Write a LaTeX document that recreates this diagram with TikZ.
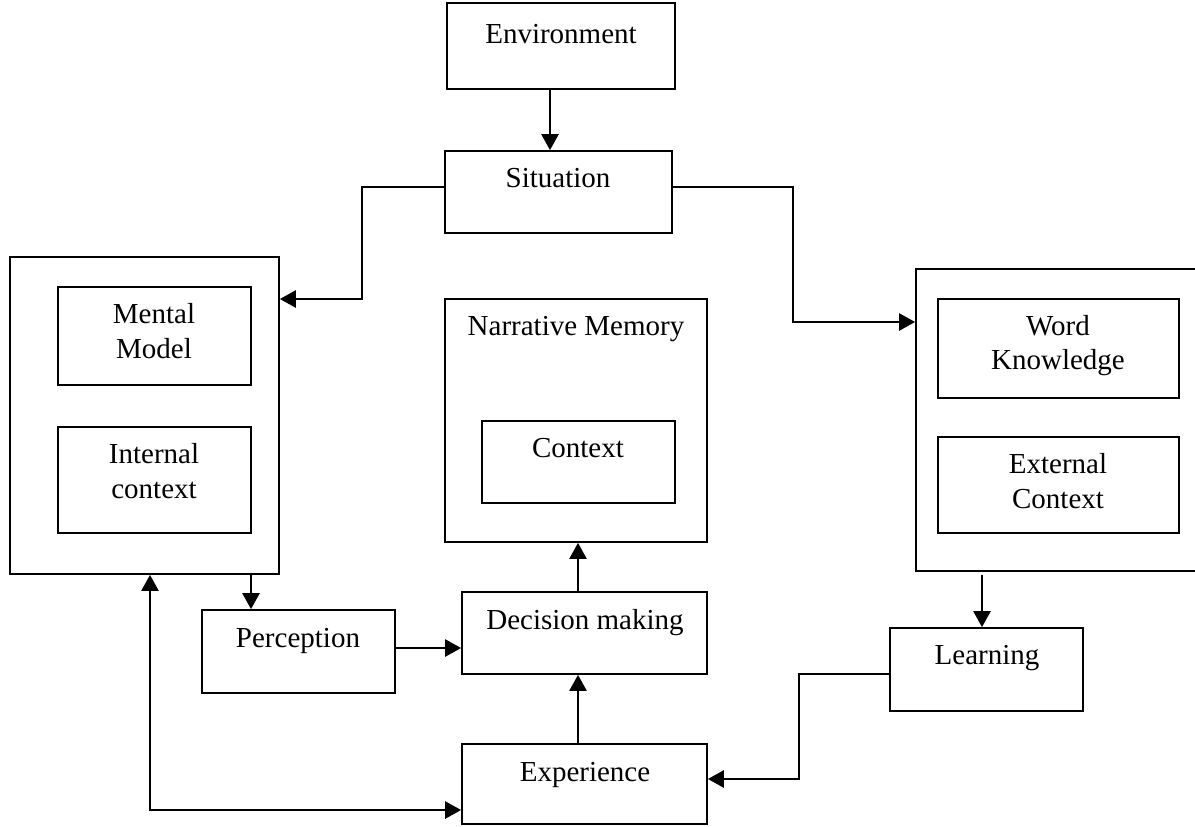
\documentclass[tikz,border=0pt]{standalone}
\usepackage{fontspec}
\setmainfont{Liberation Serif}
\usetikzlibrary{arrows.meta}
\begin{document}
\begin{tikzpicture}[x=0.5pt,y=-0.5pt,
  box/.style={draw, line width=0.85pt, inner sep=0pt},
  txt/.style={font=\fontsize{14.5}{17.5}\selectfont, inner sep=0pt, anchor=base},
  arr/.style={-{Triangle[length=8pt,width=8.5pt]}, line width=1.2pt},
  arrtwo/.style={{Triangle[length=8pt,width=8.5pt]}-{Triangle[length=8pt,width=8.5pt]}, line width=1.2pt}
]
\useasboundingbox (0,0) rectangle (1195,826);
\clip (0,0) rectangle (1195,826);

% boxes
\node[box, minimum width=114pt, minimum height=43pt] (env) at (561,46) {};
\node[box, minimum width=113.5pt, minimum height=41pt] (sit) at (558.5,192) {};
\node[box, minimum width=134.5pt, minimum height=158.5pt] (left) at (144.5,415.5) {};
\node[box, minimum width=96.5pt, minimum height=49pt] (mm) at (154.5,336) {};
\node[box, minimum width=96.5pt, minimum height=53pt] (ic) at (154.5,480) {};
\node[box, minimum width=131pt, minimum height=121.5pt] (nar) at (576,420.5) {};
\node[box, minimum width=96.5pt, minimum height=41pt] (ctx) at (578.5,462) {};
\node[box, minimum width=145pt, minimum height=151pt] (right) at (1061,420) {};
\node[box, minimum width=120.5pt, minimum height=49.5pt] (wk) at (1058.5,348.5) {};
\node[box, minimum width=120.5pt, minimum height=48pt] (ec) at (1058.5,485) {};
\node[box, minimum width=96.5pt, minimum height=41.5pt] (per) at (298.5,651.5) {};
\node[box, minimum width=122.5pt, minimum height=41pt] (dec) at (584.5,633) {};
\node[box, minimum width=96.5pt, minimum height=41.5pt] (lea) at (986.5,669.5) {};
\node[box, minimum width=122.5pt, minimum height=40pt] (exp) at (584.5,784) {};

% texts
\node[txt] (envT) at (561,43) {Environment};
\node[txt] (sitT) at (558,187) {Situation};
\node[txt] (mmA) at (154,323) {Mental};
\node[txt] (mmB) at (154,358) {Model};
\node[txt] (icA) at (154,463) {Internal};
\node[txt] (icB) at (154,498) {context};
\node[txt] (narT) at (576,335) {Narrative Memory};
\node[txt] (ctxT) at (578,457) {Context};
\node[txt] (wkA) at (1058,335) {Word};
\node[txt] (wkB) at (1058,369) {Knowledge};
\node[txt] (ecA) at (1058,473) {External};
\node[txt] (ecB) at (1058,508) {Context};
\node[txt] (perT) at (298,647) {Perception};
\node[txt] (decT) at (585,629) {Decision making};
\node[txt] (leaT) at (987,664) {Learning};
\node[txt] (expT) at (585,781) {Experience};

% bend points
\coordinate (b1) at (362,299);
\coordinate (b2) at (793,322);
\coordinate (b3) at (251,0);
\coordinate (b4) at (150,810);
\coordinate (b5) at (982,575);
\coordinate (b6) at (799,779);
\coordinate (b7) at (578,0);

% connectors
\draw[arr] ([xshift=-5.5pt]env.south) -- ([xshift=-4.25pt]sit.north);
\draw[arr] ([yshift=2.5pt]sit.west) -| (b1) -- (b1 -| left.east);
\draw[arr] ([yshift=2.5pt]sit.east) -| (b2) -- (b2 -| right.west);
\draw[arr] (left.south -| b3) -- (per.north -| b3);
\draw[arr] ([yshift=1.75pt]per.east) -- ([yshift=1.75pt]per.east -| dec.west);
\draw[arr] (dec.north -| b7) -- (nar.south -| b7);
\draw[arr] (exp.north -| b7) -- (dec.south -| b7);
\draw[arrtwo] (left.south -| b4) -- (b4) -- (b4 -| exp.west);
\draw[arr] (b5) -- (b5 |- lea.north);
\draw[arr] ([yshift=-2.25pt]lea.west) -| (b6) -- (b6 -| exp.east);
\end{tikzpicture}
\end{document}
